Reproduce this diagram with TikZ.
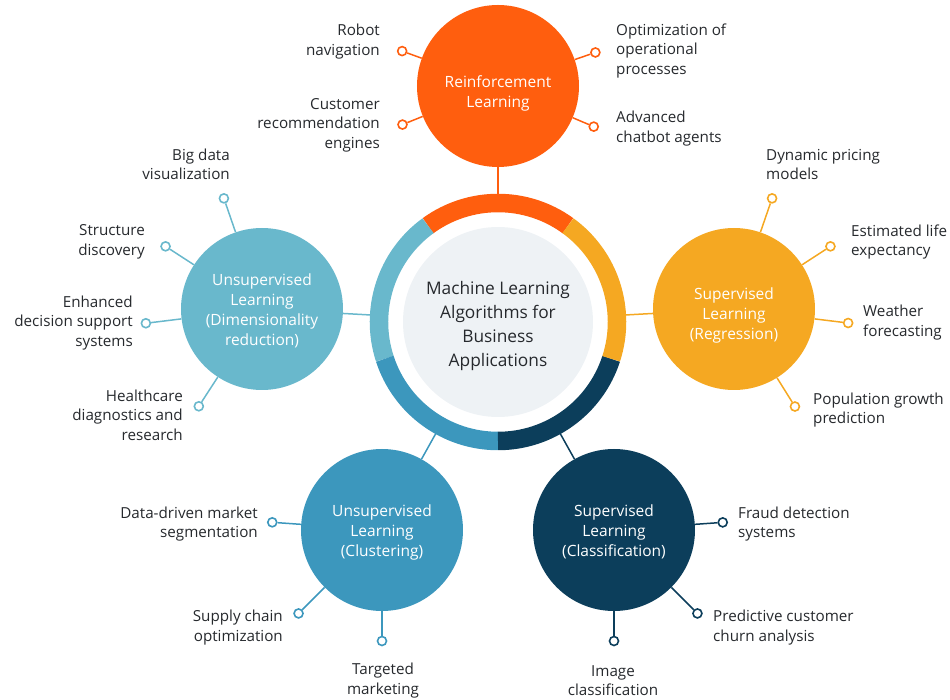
\documentclass[tikz,border=0pt]{standalone}
\usepackage{fontspec}
\setmainfont{Open Sans}
\usetikzlibrary{calc}

\definecolor{rlorange}{HTML}{FF5E0E}
\definecolor{regyellow}{HTML}{F5A822}
\definecolor{clanavy}{HTML}{0C3E5B}
\definecolor{clublue}{HTML}{3C97BD}
\definecolor{dimblue}{HTML}{69B8CC}
\definecolor{hubgray}{HTML}{EEF2F5}
\definecolor{txtgray}{HTML}{26292D}

\begin{document}
\begin{tikzpicture}[x=1pt, y=1pt,
  sat/.style={circle, minimum size=162pt, inner sep=0pt},
  satlbl/.style={align=center, text=white, font=\fontsize{15.5}{20}\selectfont},
  leaf/.style={circle, draw, fill=white, line width=1.6pt, minimum size=9pt, inner sep=0pt},
  lbl/.style={text=txtgray, inner sep=0pt, font=\fontsize{15.2}{19.5}\selectfont},
  lbll/.style={lbl, anchor=west, align=left},
  lblr/.style={lbl, anchor=east, align=right},
  lblc/.style={lbl, anchor=center, align=center},
  link/.style={line width=1.5pt}]

\useasboundingbox (-498,-378) rectangle (452,322);

% =================================================================================
% the hub: grey disc and the five-coloured ring
% =================================================================================
\fill[hubgray] (0,0) circle[radius=95];
\node[circle, minimum size=256pt, inner sep=0pt] (ring) at (0,0) {};
\draw[line width=18.5pt, rlorange]  (54:119)  arc[start angle=54,  end angle=126, radius=119];
\draw[line width=18.5pt, dimblue]   (126:119) arc[start angle=126, end angle=198, radius=119];
\draw[line width=18.5pt, clublue]   (198:119) arc[start angle=198, end angle=270, radius=119];
\draw[line width=18.5pt, clanavy]   (270:119) arc[start angle=270, end angle=342, radius=119];
\draw[line width=18.5pt, regyellow] (-18:119) arc[start angle=-18, end angle=54,  radius=119];
\node[align=center, text=txtgray, font=\fontsize{17.3}{24}\selectfont] (hub) at (0,-4)
  {Machine Learning\\Algorithms for\\Business\\Applications};

% =================================================================================
% the five families
% =================================================================================
\node[sat, fill=rlorange]  (rl)  at (0,236)     {};
\node[sat, fill=regyellow] (reg) at (236,13)    {};
\node[sat, fill=dimblue]   (dim) at (-236,13)   {};
\node[sat, fill=clublue]   (clu) at (-116,-208) {};
\node[sat, fill=clanavy]   (cla) at (116,-208)  {};

\node[satlbl] (rlt)  at ($(rl)+(0,-7)$)  {Reinforcement\\Learning};
\node[satlbl] (regt) at ($(reg)+(0,-6)$) {Supervised\\Learning\\(Regression)};
\node[satlbl] (dimt) at ($(dim)+(0,-2)$) {Unsupervised\\Learning\\(Dimensionality\\reduction)};
\node[satlbl] (clut) at ($(clu)+(0,-2)$) {Unsupervised\\Learning\\(Clustering)};
\node[satlbl] (clat) at ($(cla)+(0,-2)$) {Supervised\\Learning\\(Classification)};

\draw[link, rlorange]  (rl)  -- (ring);
\draw[link, regyellow] (reg) -- (ring);
\draw[link, dimblue]   (dim) -- (ring);
\draw[link, clublue]   (clu) -- (ring);
\draw[link, clanavy]   (cla) -- (ring);

% =================================================================================
% reinforcement learning
% =================================================================================
\node[leaf, draw=rlorange] (rl1) at ($(rl)+(160:102)$) {};
\node[leaf, draw=rlorange] (rl2) at ($(rl)+(202:103)$) {};
\node[leaf, draw=rlorange] (rl3) at ($(rl)+(19:103)$)  {};
\node[leaf, draw=rlorange] (rl4) at ($(rl)+(-23:104)$) {};
\draw[link, rlorange] (rl) -- (rl1);
\draw[link, rlorange] (rl) -- (rl2);
\draw[link, rlorange] (rl) -- (rl3);
\draw[link, rlorange] (rl) -- (rl4);
\node[lblr] (rl1t) at (-118,280.5) {Robot\\navigation};
\node[lblr] (rl2t) at (-118,197)   {Customer\\recommendation\\engines};
\node[lbll] (rl3t) at (118,271)    {Optimization of\\operational\\processes};
\node[lbll] (rl4t) at (118,193.5)  {Advanced\\chatbot agents};

% =================================================================================
% supervised learning, regression
% =================================================================================
\node[leaf, draw=regyellow] (reg1) at ($(reg)+(71:117)$)  {};
\node[leaf, draw=regyellow] (reg2) at ($(reg)+(33:115)$)  {};
\node[leaf, draw=regyellow] (reg3) at ($(reg)+(-7:115)$)  {};
\node[leaf, draw=regyellow] (reg4) at ($(reg)+(-58:115)$) {};
\draw[link, regyellow] (reg) -- (reg1);
\draw[link, regyellow] (reg) -- (reg2);
\draw[link, regyellow] (reg) -- (reg3);
\draw[link, regyellow] (reg) -- (reg4);
\node[lbll] (reg1t) at (268,157.5) {Dynamic pricing\\models};
\node[lbll] (reg2t) at (353,80)    {Estimated life\\expectancy};
\node[lbll] (reg3t) at (365,-0.5)  {Weather\\forecasting};
\node[lbll] (reg4t) at (315,-88)   {Population growth\\prediction};

% =================================================================================
% unsupervised learning, dimensionality reduction
% =================================================================================
\node[leaf, draw=dimblue] (dim1) at ($(dim)+(109:117)$) {};
\node[leaf, draw=dimblue] (dim2) at ($(dim)+(147:115)$) {};
\node[leaf, draw=dimblue] (dim3) at ($(dim)+(187:117)$) {};
\node[leaf, draw=dimblue] (dim4) at ($(dim)+(237:116)$) {};
\draw[link, dimblue] (dim) -- (dim1);
\draw[link, dimblue] (dim) -- (dim2);
\draw[link, dimblue] (dim) -- (dim3);
\draw[link, dimblue] (dim) -- (dim4);
\node[lblr] (dim1t) at (-268,157.5) {Big data\\visualization};
\node[lblr] (dim2t) at (-353,80)    {Structure\\discovery};
\node[lblr] (dim3t) at (-365,-1)    {Enhanced\\decision support\\systems};
\node[lblr] (dim4t) at (-315,-93)   {Healthcare\\diagnostics and\\research};

% =================================================================================
% unsupervised learning, clustering
% =================================================================================
\node[leaf, draw=clublue] (clu1) at ($(clu)+(176:110)$) {};
\node[leaf, draw=clublue] (clu2) at ($(clu)+(225:118)$) {};
\node[leaf, draw=clublue] (clu3) at ($(clu)+(270:111)$) {};
\draw[link, clublue] (clu) -- (clu1);
\draw[link, clublue] (clu) -- (clu2);
\draw[link, clublue] (clu) -- (clu3);
\node[lblr] (clu1t) at (-240,-202)   {Data-driven market\\segmentation};
\node[lblr] (clu2t) at (-215,-305.5) {Supply chain\\optimization};
\node[lblc] (clu3t) at (-115,-358.5) {Targeted\\marketing};

% =================================================================================
% supervised learning, classification
% =================================================================================
\node[leaf, draw=clanavy] (cla1) at ($(cla)+(4:109)$)   {};
\node[leaf, draw=clanavy] (cla2) at ($(cla)+(-45:118)$) {};
\node[leaf, draw=clanavy] (cla3) at ($(cla)+(270:111)$) {};
\draw[link, clanavy] (cla) -- (cla1);
\draw[link, clanavy] (cla) -- (cla2);
\draw[link, clanavy] (cla) -- (cla3);
\node[lbll] (cla1t) at (240,-202)   {Fraud detection\\systems};
\node[lbll] (cla2t) at (215,-305.5) {Predictive customer\\churn analysis};
\node[lblc] (cla3t) at (115,-358.5) {Image\\classification};

\end{tikzpicture}
\end{document}
